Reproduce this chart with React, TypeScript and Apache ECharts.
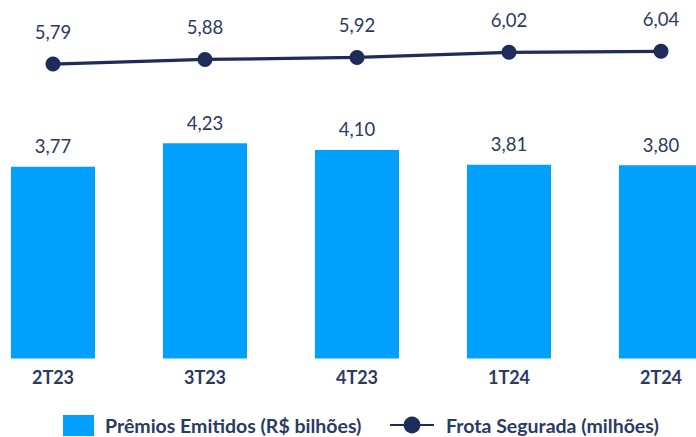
import React, { useEffect, useRef } from "react";
import * as echarts from "echarts";

const categories = ["2T23", "3T23", "4T23", "1T24", "2T24"];
const premiosEmitidos = [3.77, 4.23, 4.1, 3.81, 3.8];
const frotaSegurada = [5.79, 5.88, 5.92, 6.02, 6.04];
const barName = "Prêmios Emitidos (R$ bilhões)";
const lineName = "Frota Segurada (milhões)";

const TEXT = "#2B3A64";
const NAVY = "#1E2C5C";
const BLUE = "#00A0FE";
const FONT = "Lato";

const fmt = (v: number) => v.toFixed(2).replace(".", ",");

export default function App() {
  const ref = useRef<HTMLDivElement>(null);
  useEffect(() => {
    if (!ref.current) return;
    const chart = echarts.init(ref.current, undefined, { renderer: "svg" });
    chart.setOption({
      animation: false,
      backgroundColor: "#ffffff",
      textStyle: { fontFamily: FONT },
      grid: {
        left: -23,
        right: -41,
        top: 2.5,
        bottom: 78.5,
        containLabel: false,
        outerBoundsMode: "none",
      },
      xAxis: {
        type: "category",
        data: categories,
        axisLine: { show: false },
        axisTick: { show: false },
        axisLabel: {
          margin: 9,
          color: TEXT,
          fontFamily: FONT,
          fontWeight: "bold",
          fontSize: 18,
          lineHeight: 18,
        },
      },
      yAxis: {
        type: "value",
        min: 0,
        max: 7,
        show: false,
        splitLine: { show: false },
      },
      legend: [
        {
          data: [{ name: barName, icon: "rect" }],
          left: 63,
          top: 415,
          itemWidth: 31,
          itemHeight: 21,
          padding: 0,
          textStyle: {
            color: TEXT,
            fontFamily: FONT,
            fontWeight: "bold",
            fontSize: 19.5,
            lineHeight: 20,
            padding: [0, 0, 0, 6],
          },
        },
        {
          data: [lineName],
          left: 389,
          top: 415,
          itemWidth: 44,
          itemHeight: 21,
          padding: 0,
          textStyle: {
            color: TEXT,
            fontFamily: FONT,
            fontWeight: "bold",
            fontSize: 19.5,
            lineHeight: 20,
            padding: [0, 0, 0, 7],
          },
        },
      ],
      series: [
        {
          name: barName,
          type: "bar",
          data: premiosEmitidos,
          barWidth: 84,
          itemStyle: { color: BLUE },
          label: {
            show: true,
            position: "top",
            distance: 11,
            color: TEXT,
            fontFamily: FONT,
            fontSize: 18.5,
            formatter: (p: any) => fmt(p.value),
          },
        },
        {
          name: lineName,
          type: "line",
          data: frotaSegurada,
          symbol: "circle",
          symbolSize: 15,
          lineStyle: { color: NAVY, width: 3.2 },
          itemStyle: { color: NAVY },
          label: {
            show: true,
            position: "top",
            distance: 15,
            color: TEXT,
            fontFamily: FONT,
            fontSize: 18.5,
            formatter: (p: any) => fmt(p.value),
          },
        },
      ],
    });
    return () => chart.dispose();
  }, []);
  return (
    <div
      ref={ref}
      style={{ position: "fixed", left: 0, top: 0, width: 696, height: 437 }}
    />
  );
}
